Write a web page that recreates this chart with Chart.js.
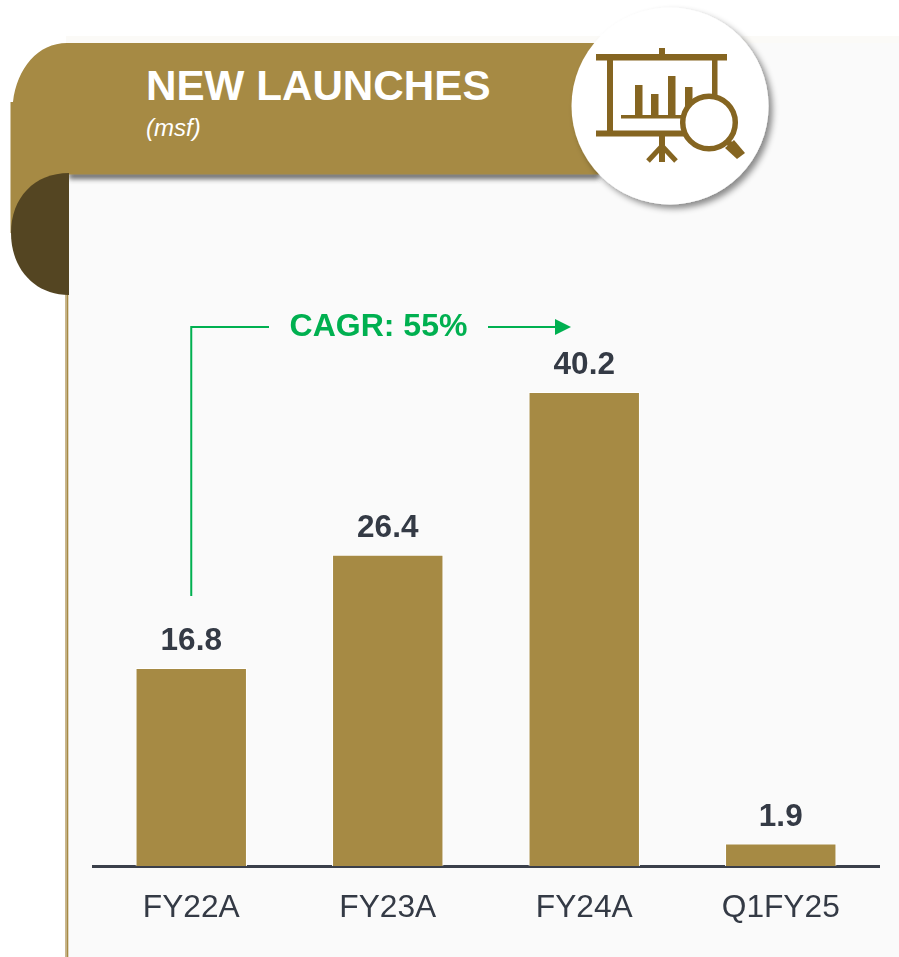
<!DOCTYPE html>
<html>
<head>
<meta charset="utf-8">
<title>New launches</title>
<script src="https://cdn.jsdelivr.net/npm/chart.js@4"></script>
<style>
  html, body { margin: 0; padding: 0; background: #fff; }
  #page { position: relative; width: 899px; height: 957px; overflow: hidden; }
  #page svg, #page canvas { position: absolute; left: 0; top: 0; }
</style>
</head>
<body>
<div id="page">
  <svg width="899" height="957" font-family="'Liberation Sans', Arial, sans-serif">
    <defs>
      <filter id="bandShadow" x="-5%" y="-100%" width="110%" height="300%">
        <feGaussianBlur stdDeviation="2.5"/>
      </filter>
      <filter id="circleShadow" x="-20%" y="-20%" width="140%" height="140%">
        <feDropShadow dx="4" dy="4" stdDeviation="3" flood-color="#000" flood-opacity="0.45"/>
      </filter>
    </defs>
    <!-- panel -->
    <rect x="66" y="36" width="833" height="921" fill="#fafafa"/>
    <rect x="66" y="36" width="833" height="7" fill="#fbfaf7"/>
    <rect x="65" y="290" width="1.5" height="667" fill="#c9b78f"/>
    <rect x="66.5" y="290" width="1.8" height="667" fill="#a68a44"/>
    <!-- header band -->
    <rect x="69" y="172" width="530" height="7" fill="#444" opacity="0.8" filter="url(#bandShadow)"/>
    <path d="M67 43 H610 V174.5 H60 V233 H10.5 V102 H13 C17 68 38 43 67 43 Z" fill="#a68a44"/>
    <path d="M69 173 V295 C34 295 11 268 11 233 C11 198 34 173 69 173 Z" fill="#544522"/>
    <!-- icon circle -->
    <circle cx="670" cy="106" r="98.5" fill="#fff" filter="url(#circleShadow)"/>
    <g fill="#856521">
      <rect x="596" y="54" width="131" height="6.5"/>
      <rect x="659" y="48" width="6" height="6"/>
      <rect x="607" y="60" width="6" height="73"/>
      <rect x="712" y="60" width="5.5" height="40"/>
      <rect x="596" y="130.500" width="88" height="6"/>
      <rect x="659" y="136" width="6" height="26"/>
      <rect x="635" y="85" width="7.500" height="31"/>
      <rect x="651" y="94" width="7.500" height="22"/>
      <rect x="668" y="76" width="7.500" height="40"/>
      <rect x="685" y="87" width="7.500" height="27"/>
      <rect x="621" y="115" width="64" height="3.500"/>
    </g>
    <path d="M662 146 L648 161 M662 146 L676 161" stroke="#856521" stroke-width="5" fill="none"/>
    <circle cx="709" cy="122.500" r="26.300" fill="#fff" stroke="#856521" stroke-width="5.500"/>
    <path d="M726 140 L732 146" stroke="#856521" stroke-width="6"/>
    <path d="M734 140 L745 153 L737 159 L725 148 Z" fill="#856521"/>
    <!-- header text -->
    <text x="146" y="100" font-size="42.200" font-weight="700" fill="#fff">NEW LAUNCHES</text>
    <text x="146" y="136" font-size="24" font-style="italic" fill="#fff">(msf)</text>
  </svg>
  <canvas id="chart" width="899" height="957"></canvas>
</div>
<script>
const categories = ['FY22A', 'FY23A', 'FY24A', 'Q1FY25'];
const launches = [16.8, 26.4, 40.2, 1.9];
const cagrLabel = 'CAGR: 55%';

const gold = '#a68a44';
const inkColor = '#343a45';
const cagrGreen = '#00b050';

// value labels above the bars
const barLabels = {
  id: 'barLabels',
  afterDatasetsDraw(chart) {
    const ctx = chart.ctx;
    const bars = chart.getDatasetMeta(0).data;
    ctx.save();
    ctx.font = "700 31.5px 'Liberation Sans', Arial, sans-serif";
    ctx.fillStyle = inkColor;
    ctx.textAlign = 'center';
    ctx.textBaseline = 'alphabetic';
    bars.forEach((bar, i) => {
      ctx.fillText(launches[i].toFixed(1), bar.x, bar.y - 18);
    });
    ctx.restore();
  }
};

// CAGR bracket running from the first bar across to the third
const cagrArrow = {
  id: 'cagrArrow',
  afterDraw(chart) {
    const ctx = chart.ctx;
    const bars = chart.getDatasetMeta(0).data;
    const startX = bars[0].x;
    const lineY = 327;
    ctx.save();
    ctx.strokeStyle = cagrGreen;
    ctx.fillStyle = cagrGreen;
    ctx.lineWidth = 2;
    ctx.beginPath();
    ctx.moveTo(startX, bars[0].y - 72);
    ctx.lineTo(startX, lineY);
    ctx.lineTo(269, lineY);
    ctx.moveTo(488, lineY);
    ctx.lineTo(556, lineY);
    ctx.stroke();
    ctx.beginPath();
    ctx.moveTo(555, lineY - 8);
    ctx.lineTo(571, lineY);
    ctx.lineTo(555, lineY + 8);
    ctx.closePath();
    ctx.fill();
    ctx.font = "700 32px 'Liberation Sans', Arial, sans-serif";
    ctx.textAlign = 'center';
    ctx.textBaseline = 'alphabetic';
    ctx.fillText(cagrLabel, 378.5, 336);
    ctx.restore();
  }
};

new Chart(document.getElementById('chart'), {
  type: 'bar',
  data: {
    labels: categories,
    datasets: [{
      data: launches,
      backgroundColor: gold,
      borderColor: '#ffffff', // thin white edge round the bars
      borderWidth: 1,
      categoryPercentage: 0.567,
      barPercentage: 1
    }]
  },
  options: {
    responsive: false,
    animation: false,
    layout: { padding: { left: 93, right: 20, top: 158.5, bottom: 0 } },
    plugins: {
      legend: { display: false },
      title: { display: false },
      tooltip: { enabled: false }
    },
    scales: {
      x: {
        afterFit(scale) { scale.height = 91; }, // keeps the baseline where the picture has it
        grid: { display: false, drawTicks: false },
        border: { display: true, color: '#3a3f4a', width: 3 },
        ticks: {
          color: inkColor,
          padding: 23,
          autoSkip: false,
          maxRotation: 0,
          font: { family: "'Liberation Sans', Arial, sans-serif", size: 31.7 }
        }
      },
      y: { display: false, min: 0, max: 60 }
    }
  },
  plugins: [barLabels, cagrArrow]
});
</script>
</body>
</html>
